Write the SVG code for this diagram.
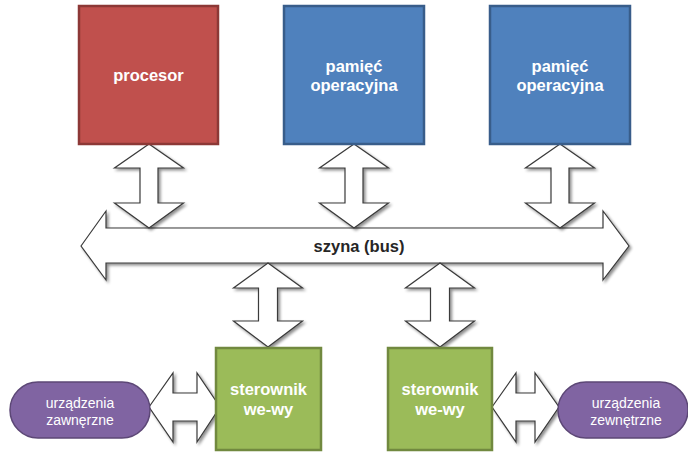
<svg xmlns="http://www.w3.org/2000/svg" width="688" height="455" viewBox="0 0 688 455">
  <style>
    .box { stroke-width: 2.5; }
    .red { fill: #C0504D; stroke: #8C3836; }
    .blue { fill: #4F81BD; stroke: #385D8A; }
    .green { fill: #9BBB59; stroke: #71893F; }
    .purple { fill: #8064A2; stroke: #5C4776; stroke-width: 1.5; }
    .lbl { font-family: "Liberation Sans", Arial, sans-serif; font-weight: bold; font-size: 16.5px; fill: #ffffff; text-anchor: middle; }
    .dev { font-family: "Liberation Sans", Arial, sans-serif; font-size: 14px; fill: #ffffff; text-anchor: middle; }
    .bus { font-family: "Liberation Sans", Arial, sans-serif; font-weight: bold; font-size: 16.5px; fill: #262626; text-anchor: middle; }
    .arrow { fill: #ffffff; stroke: #3a3a3a; stroke-width: 1.2; stroke-linejoin: miter; filter: url(#shadow); }
  </style>
  <defs>
    <filter id="shadow" x="-20%" y="-20%" width="140%" height="140%">
      <feGaussianBlur in="SourceAlpha" stdDeviation="1.5"/>
      <feOffset dx="2" dy="2" result="b"/>
      <feComponentTransfer><feFuncA type="linear" slope="0.45"/></feComponentTransfer>
      <feMerge><feMergeNode/><feMergeNode in="SourceGraphic"/></feMerge>
    </filter>
  </defs>
  <rect width="688" height="455" fill="#ffffff"/>

  <g id="connectors">
    <!-- bus -->
    <path id="bus" class="arrow" d="M81,246 L106,211 L106,228 L603,228 L603,211 L629,246 L603,280 L603,263 L106,263 L106,280 Z"/>
    <!-- processor <-> bus -->
    <path class="arrow" d="M149,144 L183.5,168 L158,168 L158,203 L183.5,203 L149,228 L114.5,203 L140,203 L140,168 L114.5,168 Z"/>
    <!-- memory 1 <-> bus -->
    <path class="arrow" d="M354,144 L388.5,168 L363,168 L363,203 L388.5,203 L354,228 L319.5,203 L345,203 L345,168 L319.5,168 Z"/>
    <!-- memory 2 <-> bus -->
    <path class="arrow" d="M560,144 L594.5,168 L569,168 L569,203 L594.5,203 L560,228 L525.5,203 L551,203 L551,168 L525.5,168 Z"/>
    <!-- bus <-> controller 1 -->
    <path class="arrow" d="M268,263 L302.5,288 L277.5,288 L277.5,321 L302.5,321 L268,347 L233.5,321 L258.5,321 L258.5,288 L233.5,288 Z"/>
    <!-- bus <-> controller 2 -->
    <path class="arrow" d="M440,263 L474.5,288 L449.5,288 L449.5,321 L474.5,321 L440,347 L405.5,321 L430.5,321 L430.5,288 L405.5,288 Z"/>
    <!-- device 1 <-> controller 1 -->
    <path class="arrow" d="M149,407 L173,373 L173,393 L197,393 L197,373 L220,407 L197,442 L197,421 L173,421 L173,442 Z"/>
    <!-- controller 2 <-> device 2 -->
    <path class="arrow" d="M492,407 L516,373 L516,393 L535,393 L535,373 L559,407 L535,442 L535,421 L516,421 L516,442 Z"/>
    <text class="bus" x="359" y="252">szyna (bus)</text>
  </g>

  <g id="procesor">
    <rect class="box red" x="79" y="6" width="139" height="138"/>
    <text class="lbl" x="148.5" y="81">procesor</text>
  </g>
  <g id="pamiec1">
    <rect class="box blue" x="284" y="6" width="140" height="138"/>
    <text class="lbl" x="354" y="72">pamięć</text>
    <text class="lbl" x="354" y="91">operacyjna</text>
  </g>
  <g id="pamiec2">
    <rect class="box blue" x="490" y="6" width="140" height="138"/>
    <text class="lbl" x="560" y="72">pamięć</text>
    <text class="lbl" x="560" y="91">operacyjna</text>
  </g>
  <g id="sterownik1">
    <rect class="box green" x="216" y="348" width="105" height="102"/>
    <text class="lbl" x="268.5" y="395">sterownik</text>
    <text class="lbl" x="268.5" y="415">we-wy</text>
  </g>
  <g id="sterownik2">
    <rect class="box green" x="388" y="348" width="104" height="102"/>
    <text class="lbl" x="440" y="395">sterownik</text>
    <text class="lbl" x="440" y="415">we-wy</text>
  </g>
  <g id="urzadzenia1">
    <rect class="purple" x="10" y="382" width="140" height="56" rx="28" ry="28"/>
    <text class="dev" x="80" y="408">urządzenia</text>
    <text class="dev" x="80" y="425">zawnęrzne</text>
  </g>
  <g id="urzadzenia2">
    <rect class="purple" x="558" y="382" width="130" height="56" rx="28" ry="28"/>
    <text class="dev" x="626" y="408">urządzenia</text>
    <text class="dev" x="626" y="425">zewnętrzne</text>
  </g>
</svg>
